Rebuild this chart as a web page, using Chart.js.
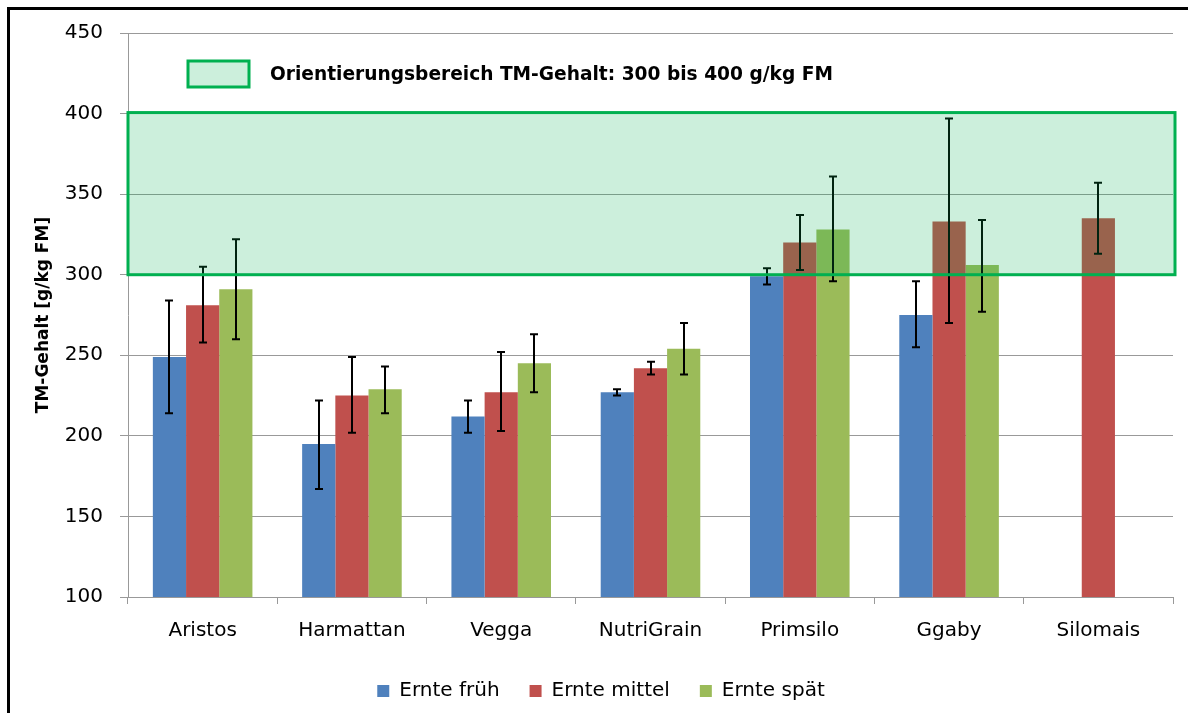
<!DOCTYPE html>
<html>
<head>
<meta charset="utf-8">
<script src="https://cdn.jsdelivr.net/npm/chart.js@4"></script>
<style>
  body { margin: 0; background: #fff; }
  #rahmen { position: absolute; left: 7px; top: 7px; width: 1200px; height: 720px;
            border-left: 3px solid #000; border-top: 3px solid #000; }
  #myChart { position: absolute; left: 0; top: 0; }
</style>
</head>
<body>
<div id="rahmen"></div>
<canvas id="myChart" width="1188" height="713"></canvas>
<script>
const sorten = ['Aristos', 'Harmattan', 'Vegga', 'NutriGrain', 'Primsilo', 'Ggaby', 'Silomais']

const ernteFrueh = [249, 195, 212, 227, 299, 275, null]
const ernteMittel = [281, 225, 227, 242, 320, 333, 335]
const ernteSpaet = [291, 229, 245, 254, 328, 306, null]

// Fehlerbalken: [unten, oben]
const fehlerFrueh = [[214, 284], [167, 222], [202, 222], [225, 229], [294, 304], [255, 296], null]
const fehlerMittel = [[258, 305], [202, 249], [203, 252], [238, 246], [303, 337], [270, 397], [313, 357]]
const fehlerSpaet = [[260, 322], [214, 243], [227, 263], [238, 270], [296, 361], [277, 334], null]

const bereichVon = 300
const bereichBis = 400
const bereichText = 'Orientierungsbereich TM-Gehalt: 300 bis 400 g/kg FM'

const schrift = "'DejaVu Sans', sans-serif"

const fehlerListe = [fehlerFrueh, fehlerMittel, fehlerSpaet]

const fehlerUndBereich = {
    id: 'fehlerUndBereich',
    afterDatasetsDraw(chart) {
        const ctx = chart.ctx
        const y = chart.scales.y
        const area = chart.chartArea
        // Fehlerbalken
        ctx.save()
        ctx.strokeStyle = '#000'
        ctx.lineWidth = 2
        chart.data.datasets.forEach((ds, i) => {
            const meta = chart.getDatasetMeta(i)
            meta.data.forEach((bar, j) => {
                const f = fehlerListe[i][j]
                if (!f || ds.data[j] == null) return
                const x = Math.round(bar.x)
                const y1 = y.getPixelForValue(f[0])
                const y2 = y.getPixelForValue(f[1])
                ctx.beginPath()
                ctx.moveTo(x, y1); ctx.lineTo(x, y2)
                ctx.moveTo(x - 4, y1); ctx.lineTo(x + 4, y1)
                ctx.moveTo(x - 4, y2); ctx.lineTo(x + 4, y2)
                ctx.stroke()
            })
        })
        ctx.restore()

        // Orientierungsbereich
        const top = y.getPixelForValue(bereichBis) - 1
        const bottom = y.getPixelForValue(bereichVon)
        ctx.save()
        ctx.fillStyle = 'rgba(0, 176, 80, 0.2)'
        ctx.fillRect(area.left, top, area.right - area.left + 2, bottom - top)
        ctx.strokeStyle = '#00B050'
        ctx.lineWidth = 3
        ctx.strokeRect(area.left, top, area.right - area.left + 2, bottom - top)

        // Legende oben
        ctx.fillStyle = '#CCEFDC'
        ctx.fillRect(188, 61, 61, 26)
        ctx.strokeRect(188, 61, 61, 26)
        ctx.fillStyle = '#000'
        ctx.font = 'bold 18.6px ' + schrift
        ctx.textBaseline = 'middle'
        ctx.fillText(bereichText, 270, 75)
        ctx.restore()
    }
}

const data = {
    labels: sorten,
    datasets: [{
        label: 'Ernte früh',
        data: ernteFrueh,
        backgroundColor: '#4F81BD'
    }, {
        label: 'Ernte mittel',
        data: ernteMittel,
        backgroundColor: '#C0504D'
    }, {
        label: 'Ernte spät',
        data: ernteSpaet,
        backgroundColor: '#9BBB59'
    }]
};

const config = {
    type: 'bar',
    data: data,
    plugins: [fehlerUndBereich],
    options: {
        responsive: false,
        animation: false,
        categoryPercentage: 0.667,
        barPercentage: 1,
        layout: { padding: { left: 29, right: 15, top: 33, bottom: 2 } },
        scales: {
            x: {
                afterFit(scale) { scale.height -= 7 },
                grid: { offset: true, drawOnChartArea: false, color: '#999', tickLength: 7 },
                border: { color: '#999' },
                ticks: { color: '#000', font: { family: schrift, size: 20 }, padding: 15 }
            },
            y: {
                min: 100,
                max: 450,
                afterFit(scale) { scale.width = 99 },
                ticks: { stepSize: 50, color: '#000', font: { family: schrift, size: 20 }, padding: 17 },
                grid: { color: '#999', tickLength: 8 },
                border: { color: '#999' },
                title: {
                    display: true,
                    text: 'TM-Gehalt [g/kg FM]',
                    color: '#000',
                    font: { family: schrift, size: 17, weight: 'bold' }
                }
            }
        },
        plugins: {
            legend: {
                position: 'bottom',
                labels: {
                    color: '#000',
                    boxWidth: 12,
                    boxHeight: 12,
                    padding: 30,
                    font: { family: schrift, size: 20 }
                }
            },
            tooltip: { enabled: false }
        }
    }
};

const ctx = document.getElementById('myChart');

new Chart(ctx, config);
</script>
</body>
</html>
